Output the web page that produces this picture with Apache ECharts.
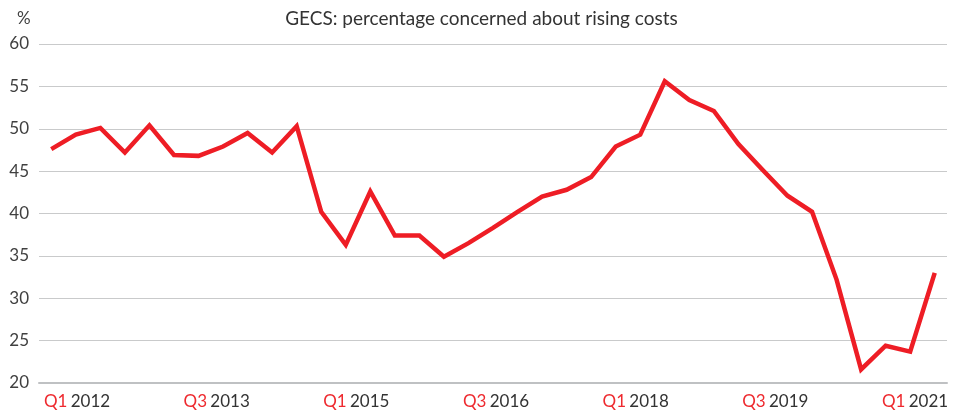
<!DOCTYPE html>
<html>
<head>
<meta charset="utf-8">
<script src="https://cdn.jsdelivr.net/npm/echarts@6/dist/echarts.min.js"></script>
<style>
  html, body { margin: 0; padding: 0; background: #fff; }
  #chart { width: 963px; height: 414px; }
</style>
</head>
<body>
<div id="chart"></div>
<script>
// quarterly categories Q1 2012 .. Q1 2021
var quarters = [];
for (var y = 2012; y <= 2021; y++) {
  for (var q = 1; q <= 4; q++) {
    if (y == 2021 && q > 1) break;
    quarters.push('Q' + q + ' ' + y);
  }
}
// % concerned about rising costs
var concerned = [47.6, 49.3, 50.1, 47.2, 50.4, 46.9, 46.8, 47.9, 49.5, 47.2,
                 50.3, 40.2, 36.3, 42.6, 37.4, 37.4, 34.9, 36.5, 38.3, 40.2,
                 42.0, 42.8, 44.3, 47.9, 49.3, 55.6, 53.4, 52.1, 48.2, 45.1,
                 42.1, 40.2, 32.2, 21.6, 24.4, 23.7, 33.0];
// labels shown under the axis
var tickLabels = ['Q1 2012', 'Q3 2013', 'Q1 2015', 'Q3 2016', 'Q1 2018', 'Q3 2019', 'Q1 2021'];
var yTicks = [20, 25, 30, 35, 40, 45, 50, 55, 60];

var fontFam = 'Lato, "Noto Sans", sans-serif';
var myChart = echarts.init(document.getElementById('chart'));

function qLabel(val) {
  var p = val.split(' ');
  return '{q|' + p[0] + '} {y|' + p[1] + '}';
}

var option = {
  animation: false,
  backgroundColor: '#fff',
  title: [{
    text: 'GECS: percentage concerned about rising costs',
    left: 'center',
    top: 4,
    textStyle: { fontFamily: fontFam, fontSize: 19, fontWeight: 'normal', color: '#333' }
  }, {
    text: '%',
    left: 12,
    top: 5,
    textStyle: { fontFamily: fontFam, fontSize: 17, fontWeight: 'normal', color: '#404040' }
  }],
  grid: [
    { left: 39, right: 16, top: 44, bottom: 31 },
    { left: 77, right: 48, top: 44, bottom: 31 }
  ],
  xAxis: [{
    type: 'category',
    gridIndex: 0,
    data: quarters,
    boundaryGap: true,
    axisTick: { show: false },
    axisLabel: { show: false },
    axisLine: { show: true, lineStyle: { color: '#bfc1c3', width: 2 } }
  }, {
    type: 'category',
    gridIndex: 1,
    data: tickLabels,
    boundaryGap: false,
    axisTick: { show: false },
    axisLine: { show: false },
    axisLabel: {
      interval: 0,
      margin: 10,
      formatter: qLabel,
      rich: {
        q: { color: '#ee2a2f', fontFamily: fontFam, fontSize: 17 },
        y: { color: '#333', fontFamily: fontFam, fontSize: 17 }
      }
    }
  }],
  yAxis: [{
    type: 'value',
    gridIndex: 0,
    min: yTicks[0],
    max: yTicks[yTicks.length - 1],
    interval: 5,
    axisLine: { show: false },
    axisTick: { show: false },
    axisLabel: { color: '#404040', fontFamily: fontFam, fontSize: 17, margin: 10 },
    splitLine: { lineStyle: { color: '#c9cacb', width: 1 } }
  }, {
    type: 'value',
    gridIndex: 1,
    show: false
  }],
  series: [{
    name: 'concerned',
    type: 'line',
    xAxisIndex: 0,
    yAxisIndex: 0,
    data: concerned,
    symbol: 'none',
    lineStyle: { color: '#ee1d25', width: 4.5, join: 'miter' },
    z: 3
  }]
};
myChart.setOption(option);
</script>
</body>
</html>
